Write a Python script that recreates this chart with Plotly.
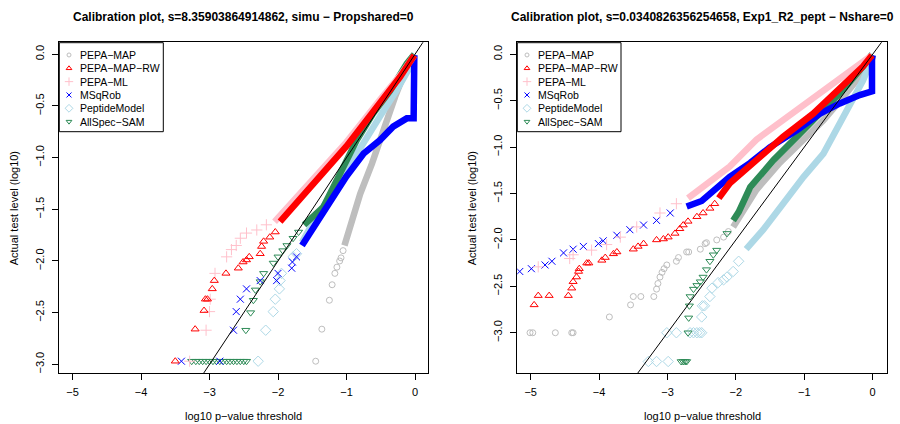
import plotly.graph_objects as go

# ---------------- data: left panel (simu) ----------------
L_gray_x = [-1.45, -1.36, -1.25, -1.21, -1.17, -1.14, -1.10, -1.08, -1.05]
L_gray_y = [-2.97, -2.66, -2.38, -2.23, -2.12, -2.06, -2.00, -1.97, -1.90]
L_gray_bx = [-1.03, -0.93, -0.80, -0.63, -0.46, -0.29, -0.10, -0.01]
L_gray_by = [-1.85, -1.62, -1.35, -1.06, -0.73, -0.41, -0.09, -0.01]

L_red_x = [-3.50, -3.21, -3.08, -3.06, -3.03, -2.96, -2.93, -2.76, -2.58, -2.51, -2.46, -2.42, -2.26, -2.24, -2.21, -2.12, -2.04]
L_red_y = [-2.97, -2.66, -2.48, -2.37, -2.37, -2.27, -2.19, -2.12, -2.07, -2.01, -1.99, -1.96, -1.93, -1.86, -1.81, -1.77, -1.72]
L_red_bx = [-1.97, -1.48, -1.00, -0.51, -0.22, -0.01]
L_red_by = [-1.62, -1.25, -0.89, -0.47, -0.22, -0.01]

L_pink_x = [-3.29, -3.05, -3.00, -2.99, -2.92, -2.75, -2.68, -2.61, -2.55, -2.46, -2.31, -2.17]
L_pink_y = [-2.97, -2.67, -2.49, -2.37, -2.12, -1.96, -1.89, -1.85, -1.78, -1.73, -1.70, -1.65]
L_pink_bx = [-2.05, -1.48, -1.00, -0.50, -0.20, -0.01]
L_pink_by = [-1.62, -1.21, -0.85, -0.43, -0.19, -0.01]

L_blue_x = [-3.41, -2.85, -2.65, -2.61, -2.55, -2.46, -2.26, -2.02, -2.00, -1.80, -1.79, -1.73]
L_blue_y = [-2.97, -2.97, -2.67, -2.49, -2.37, -2.27, -2.19, -2.19, -2.12, -2.07, -2.01, -1.96]
L_blue_bx = [-1.65, -1.48, -1.24, -1.00, -0.75, -0.51, -0.32, -0.12, -0.02, -0.02, -0.01]
L_blue_by = [-1.85, -1.67, -1.41, -1.18, -0.96, -0.83, -0.70, -0.62, -0.62, -0.08, -0.01]

L_lb_x = [-2.29, -2.18, -2.07, -2.04, -1.98, -1.97, -1.95, -1.78, -1.73]
L_lb_y = [-2.97, -2.67, -2.49, -2.37, -2.27, -2.19, -2.12, -1.96, -1.93]
L_lb_bx = [-1.65, -1.44, -1.24, -1.00, -0.75, -0.51, -0.27, -0.07, -0.01]
L_lb_by = [-1.82, -1.57, -1.38, -1.12, -0.83, -0.60, -0.35, -0.12, -0.01]

L_green_x = [-3.26, -3.20, -3.15, -3.10, -3.05, -3.00, -2.95, -2.90, -2.85, -2.80, -2.75, -2.70, -2.65,
             -2.60, -2.55, -2.50, -2.46, -2.47, -2.40, -2.36, -2.33, -2.26, -2.21, -2.07, -2.00, -1.93,
             -1.87, -1.78, -1.70]
L_green_y = [-2.97, -2.97, -2.97, -2.97, -2.97, -2.97, -2.97, -2.97, -2.97, -2.97, -2.97, -2.97, -2.97,
             -2.97, -2.97, -2.97, -2.97, -2.67, -2.50, -2.38, -2.28, -2.20, -2.12, -2.02, -1.96, -1.90,
             -1.85, -1.78, -1.72]
L_green_bx = [-1.62, -1.34, -1.09, -0.85, -0.61, -0.36, -0.12, -0.01]
L_green_by = [-1.65, -1.48, -1.15, -0.83, -0.57, -0.35, -0.09, 0.00]

# ---------------- data: right panel (Exp1_R2_pept) ----------------
R_gray_x = [-5.01, -4.97, -4.64, -4.40, -4.38, -3.85, -3.54, -3.50, -3.39, -3.20, -3.16, -3.14, -3.11,
            -3.08, -3.05, -3.01, -2.87, -2.84, -2.72, -2.69, -2.52, -2.45, -2.43, -2.28, -2.18, -2.11]
R_gray_y = [-3.00, -3.00, -3.00, -3.00, -3.00, -2.83, -2.70, -2.61, -2.61, -2.61, -2.53, -2.47, -2.40,
            -2.35, -2.31, -2.27, -2.23, -2.19, -2.13, -2.13, -2.10, -2.04, -2.03, -2.00, -1.97, -1.91]
R_gray_bx = [-2.04, -1.94, -1.70, -1.36, -1.01, -0.72, -0.43, -0.19, -0.01]
R_gray_by = [-1.86, -1.75, -1.46, -1.17, -0.92, -0.71, -0.46, -0.24, -0.04]

R_red_x = [-4.95, -4.89, -4.73, -4.45, -4.40, -4.38, -4.33, -4.30, -4.29, -4.18, -4.15, -3.96, -3.91,
           -3.79, -3.74, -3.50, -3.43, -3.35, -3.16, -3.06, -2.99, -2.89, -2.82, -2.77, -2.70, -2.57,
           -2.48, -2.38, -2.31]
R_red_y = [-2.70, -2.60, -2.60, -2.60, -2.52, -2.45, -2.40, -2.34, -2.31, -2.25, -2.25, -2.22, -2.19,
           -2.15, -2.13, -2.10, -2.07, -2.04, -2.00, -1.99, -1.97, -1.93, -1.88, -1.84, -1.80, -1.75,
           -1.71, -1.66, -1.61]
R_red_bx = [-2.25, -2.09, -1.70, -1.31, -0.87, -0.48, -0.14, -0.01]
R_red_by = [-1.55, -1.39, -1.14, -0.89, -0.64, -0.38, -0.13, -0.01]

R_pink_x = [-4.89, -4.43, -4.38, -4.11, -3.89, -3.69, -3.45, -3.11, -2.87]
R_pink_y = [-2.29, -2.20, -2.16, -2.11, -2.05, -1.97, -1.86, -1.71, -1.61]
R_pink_bx = [-2.70, -2.09, -1.70, -1.31, -0.87, -0.48, -0.14, -0.01]
R_pink_by = [-1.55, -1.21, -0.92, -0.71, -0.49, -0.28, -0.10, -0.01]

R_blue_x = [-5.16, -4.99, -4.79, -4.69, -4.52, -4.38, -4.23, -4.01, -3.94, -3.74, -3.55, -3.35, -3.16, -2.96]
R_blue_y = [-2.34, -2.31, -2.27, -2.23, -2.14, -2.10, -2.07, -2.04, -2.01, -1.95, -1.89, -1.84, -1.79, -1.71]
R_blue_bx = [-2.72, -2.50, -2.09, -1.79, -1.50, -1.11, -0.77, -0.48, -0.19, -0.01, -0.01, 0.00]
R_blue_by = [-1.64, -1.58, -1.32, -1.17, -1.00, -0.82, -0.64, -0.53, -0.44, -0.40, -0.06, -0.01]

R_lb_x = [-3.28, -3.16, -2.99, -3.01, -2.87, -2.67, -2.62, -2.57, -2.53, -2.50, -2.50, -2.49, -2.46,
          -2.38, -2.35, -2.26, -2.18, -2.13, -2.04, -1.96]
R_lb_y = [-3.31, -3.31, -3.31, -3.00, -3.00, -3.00, -3.00, -3.00, -3.00, -3.00, -2.83, -2.71, -2.71,
          -2.61, -2.52, -2.46, -2.43, -2.40, -2.34, -2.23]
R_lb_bx = [-1.85, -1.60, -1.31, -1.01, -0.72, -0.48, -0.28, -0.14, -0.04, 0.00]
R_lb_by = [-2.10, -1.89, -1.61, -1.32, -1.07, -0.74, -0.49, -0.28, -0.10, -0.01]

R_green_x = [-2.80, -2.77, -2.74, -2.72, -2.70, -2.69, -2.68, -2.67, -2.62, -2.57, -2.52, -2.48, -2.43,
             -2.38, -2.33, -2.28, -2.13]
R_green_y = [-3.31, -3.31, -3.31, -3.31, -3.00, -2.84, -2.71, -2.61, -2.53, -2.49, -2.45, -2.40, -2.32,
             -2.23, -2.16, -2.11, -1.93]
R_green_bx = [-2.04, -1.96, -1.79, -1.45, -1.11, -0.77, -0.43, -0.14, -0.01]
R_green_by = [-1.79, -1.70, -1.43, -1.14, -0.89, -0.64, -0.38, -0.13, 0.00]

identity = [-6, 1]

methods = ["PEPA\u2212MAP", "PEPA\u2212MAP\u2212RW", "PEPA\u2212ML", "MSqRob", "PeptideModel", "AllSpec\u2212SAM"]
titles = ["Calibration plot, s=8.35903864914862, simu \u2212 Propshared=0",
          "Calibration plot, s=0.0340826356254658, Exp1_R2_pept \u2212 Nshare=0"]
x_ticks = [-5, -4, -3, -2, -1, 0]
x_ticklabels = ["\u22125", "\u22124", "\u22123", "\u22122", "\u22121", "0"]
y_ticks = [0, -0.5, -1, -1.5, -2, -2.5, -3]
y_ticklabels = ["0.0", "\u22120.5", "\u22121.0", "\u22121.5", "\u22122.0", "\u22122.5", "\u22123.0"]
x_title = "log10 p\u2212value threshold"
y_title = "Actual test level (log10)"

# ---------------- styles ----------------
colors = ["#BEBEBE", "#FF0000", "#FFC0CB", "#0000FF", "#ADD8E6", "#2E8B57"]
symbols = ["circle-open", "triangle-up-open", "cross-thin-open", "x-thin-open", "diamond-open", "triangle-down-open"]
msizes = [6, 7, 8, 7, 8, 7]
FONT = "Liberation Sans, Arial, Helvetica, sans-serif"
W, H = 900, 424

panels = [
    dict(xa="x", ya="y",
         series=[(L_gray_x, L_gray_y, L_gray_bx, L_gray_by),
                 (L_red_x, L_red_y, L_red_bx, L_red_by),
                 (L_pink_x, L_pink_y, L_pink_bx, L_pink_by),
                 (L_blue_x, L_blue_y, L_blue_bx, L_blue_by),
                 (L_lb_x, L_lb_y, L_lb_bx, L_lb_by),
                 (L_green_x, L_green_y, L_green_bx, L_green_by)]),
    dict(xa="x2", ya="y2",
         series=[(R_gray_x, R_gray_y, R_gray_bx, R_gray_by),
                 (R_red_x, R_red_y, R_red_bx, R_red_by),
                 (R_pink_x, R_pink_y, R_pink_bx, R_pink_by),
                 (R_blue_x, R_blue_y, R_blue_bx, R_blue_by),
                 (R_lb_x, R_lb_y, R_lb_bx, R_lb_by),
                 (R_green_x, R_green_y, R_green_bx, R_green_by)]),
]
draw_order = [0, 4, 5, 3, 2, 1]

fig = go.Figure()
for p in panels:
    for i in draw_order:
        sx, sy, bx, by = p["series"][i]
        fig.add_trace(go.Scatter(x=bx, y=by, mode="lines", xaxis=p["xa"], yaxis=p["ya"],
                                 line=dict(color=colors[i], width=6.5), showlegend=False, hoverinfo="skip"))
        fig.add_trace(go.Scatter(x=sx, y=sy, mode="markers", xaxis=p["xa"], yaxis=p["ya"],
                                 marker=dict(symbol=symbols[i], size=msizes[i], color=colors[i],
                                             line=dict(width=1, color=colors[i])),
                                 showlegend=False, hoverinfo="skip"))
    fig.add_trace(go.Scatter(x=identity, y=identity, mode="lines", xaxis=p["xa"], yaxis=p["ya"],
                             line=dict(color="black", width=1), showlegend=False, hoverinfo="skip"))

boxes = [(59.3, 428.3), (517.3, 886.7)]
top_px, bot_px = 42.3, 373.3
yranges = [[-3.087, 0.116], [-3.437, 0.129]]
xranges = [[-5.193, 0.194], [-5.196, 0.205]]

axis_common = dict(showline=True, mirror=True, linecolor="black", linewidth=1, ticks="outside",
                   ticklen=6, tickwidth=1, tickcolor="black", showgrid=False, zeroline=False,
                   tickfont=dict(family=FONT, size=11, color="black"))
layout = dict(width=W, height=H, margin=dict(l=0, r=0, t=0, b=0), autosize=False,
              plot_bgcolor="white", paper_bgcolor="white", showlegend=False)
for k, (l, r) in enumerate(boxes):
    sfx = "" if k == 0 else "2"
    layout["xaxis" + sfx] = dict(axis_common, domain=[l / W, r / W], range=xranges[k],
                                 tickvals=x_ticks, ticktext=x_ticklabels, anchor="y" + sfx,
                                 ticklabelstandoff=2)
    layout["yaxis" + sfx] = dict(axis_common, domain=[1 - bot_px / H, 1 - top_px / H], range=yranges[k],
                                 tickvals=y_ticks, ticktext=y_ticklabels, tickangle=-90, anchor="x" + sfx,
                                 ticklabelstandoff=4)
fig.update_layout(**layout)

annotations = []
shapes = []
for k, (l, r) in enumerate(boxes):
    cx = (l + r) / 2 / W
    annotations.append(dict(text="<b>" + titles[k] + "</b>", x=cx, y=1 - 17 / H, xref="paper", yref="paper",
                            showarrow=False, xanchor="center", yanchor="middle",
                            font=dict(family=FONT, size=12, color="black")))
    annotations.append(dict(text=x_title, x=cx, y=1 - 416 / H, xref="paper", yref="paper",
                            showarrow=False, xanchor="center", yanchor="middle",
                            font=dict(family=FONT, size=11, color="black")))
    annotations.append(dict(text=y_title, x=(l - 45) / W, y=1 - 208 / H, xref="paper", yref="paper",
                            showarrow=False, xanchor="center", yanchor="middle", textangle=-90,
                            font=dict(family=FONT, size=11, color="black")))

legend_boxes = [(59.3, 163.3), (517.3, 621.0)]
for k, (l, r) in enumerate(legend_boxes):
    shapes.append(dict(type="rect", xref="paper", yref="paper", x0=l / W, x1=r / W,
                       y0=1 - 131.7 / H, y1=1 - 42.7 / H, line=dict(color="black", width=1),
                       fillcolor="rgba(0,0,0,0)", layer="above"))
    ax_n = 3 + k
    sym_x = l + 9.7
    fig.update_layout(**{
        "xaxis%d" % ax_n: dict(domain=[(sym_x - 5) / W, (sym_x + 5) / W], range=[-1, 1], visible=False,
                               anchor="y%d" % ax_n, fixedrange=True),
        "yaxis%d" % ax_n: dict(domain=[1 - 128.3 / H, 1 - 48.3 / H], range=[5.5, -0.5], visible=False,
                               anchor="x%d" % ax_n, fixedrange=True),
    })
    for i, name in enumerate(methods):
        fig.add_trace(go.Scatter(x=[0], y=[i], mode="markers", xaxis="x%d" % ax_n, yaxis="y%d" % ax_n,
                                 marker=dict(symbol=symbols[i], size=msizes[i] - 2, color=colors[i],
                                             line=dict(width=1, color=colors[i])),
                                 showlegend=False, hoverinfo="skip", cliponaxis=False))
        annotations.append(dict(text=name, x=(l + 19) / W, y=i, xref="paper", yref="y%d" % ax_n,
                                showarrow=False, xanchor="left", yanchor="middle",
                                font=dict(family=FONT, size=10.5, color="black")))

fig.update_layout(annotations=annotations, shapes=shapes)
fig.write_html("out.html")
